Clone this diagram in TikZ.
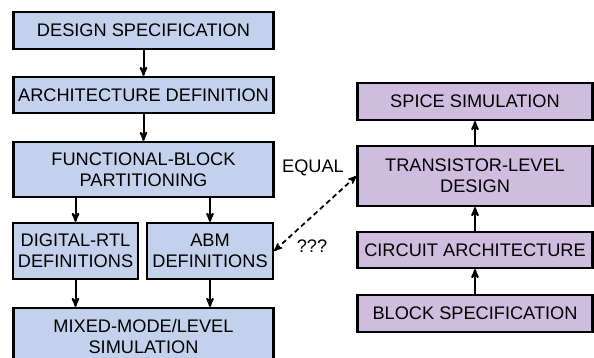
\documentclass[tikz,border=0pt]{standalone}
\usepackage{fontspec}
\setmainfont{Liberation Sans}
\usetikzlibrary{arrows,positioning,shapes}

\definecolor{flowblue}{HTML}{C4D1EC}
\definecolor{flowlilac}{HTML}{CFBDDF}

\begin{document}
\begin{tikzpicture}[->,>=stealth',font=\fontsize{18.2}{21}\selectfont]
\tikzstyle{box}=[draw,line width=2.2pt,shape=rectangle,text=black,align=center,inner sep=0pt]
\tikzstyle{topdown}=[box,fill=flowblue,minimum width=260pt]
\tikzstyle{bottomup}=[box,fill=flowlilac,minimum width=235pt]
\tikzstyle{every edge}=[draw,line width=2pt]

\useasboundingbox (0,0) rectangle (594pt,-358pt);

% analog/mixed-signal top-down flow
\node[topdown]      (spec) at (143.5pt,-30.5pt) [minimum height=37pt] {DESIGN SPECIFICATION};
\node[topdown]      (arch) [below of=spec,node distance=64.5pt,minimum height=36pt] {ARCHITECTURE DEFINITION};
\node[topdown]      (part) [below of=arch,node distance=74.5pt,minimum height=55pt] {FUNCTIONAL-BLOCK\\PARTITIONING};
\node[topdown]      (rtl)  at (75.5pt,-251pt) [minimum width=125pt,minimum height=56pt] {DIGITAL-RTL\\DEFINITIONS};
\node[topdown]      (abm)  at (210pt,-251pt) [minimum width=126pt,minimum height=56pt] {ABM\\DEFINITIONS};
\node[topdown]      (mix)  [below of=part,node distance=166.5pt,minimum height=56pt] {MIXED-MODE/LEVEL\\SIMULATION};

% transistor-level bottom-up flow
\node[bottomup]     (spice) at (475pt,-101.5pt) [minimum height=37pt] {SPICE SIMULATION};
\node[bottomup]     (tran)  [below of=spice,node distance=74.5pt,minimum height=60pt] {TRANSISTOR-LEVEL\\DESIGN};
\node[bottomup]     (circ)  [below of=tran,node distance=74pt,minimum height=36pt] {CIRCUIT ARCHITECTURE};
\node[bottomup]     (blk)   [below of=circ,node distance=63.5pt,minimum height=37pt] {BLOCK SPECIFICATION};

\node (equal) at (313pt,-168pt) {EQUAL};
\node (unk)   at (312pt,-246pt) {???};

\path
(spec) edge (arch)
(arch) edge (part)
(part.south -| rtl) edge (rtl)
(part.south -| abm) edge (abm)
(rtl) edge (rtl |- mix.north)
(abm) edge (abm |- mix.north)
(blk) edge (circ)
(circ) edge (tran)
(tran) edge (spice)
(abm.east) edge[<->,dash pattern=on 5pt off 3.5pt,line width=1.8pt] (tran.west)
;
\end{tikzpicture}
\end{document}
